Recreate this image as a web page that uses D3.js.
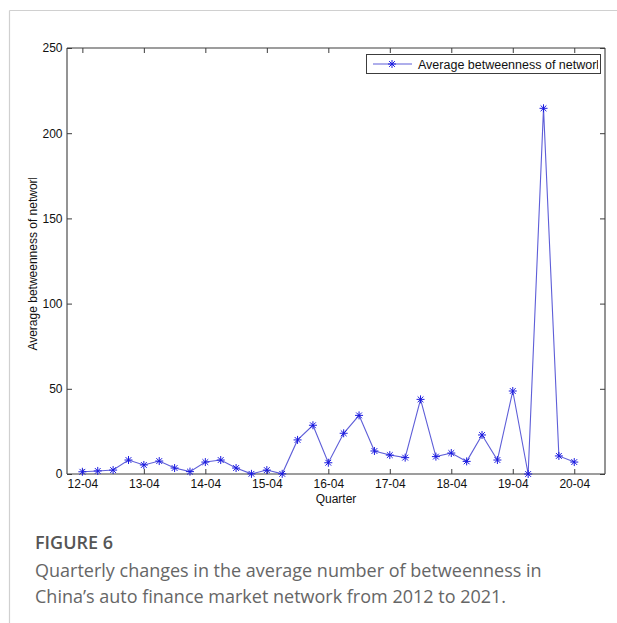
<!DOCTYPE html>
<html>
<head>
<meta charset="utf-8">
<script src="https://cdn.jsdelivr.net/npm/d3@7"></script>
<style>
  html, body { margin: 0; padding: 0; background: #fff; }
  svg { display: block; }
</style>
</head>
<body>
<svg id="chart" width="617" height="623"></svg>
<script>
// Quarter index (1 = 2012 Q4) and average betweenness of the network
const quarterIndex = [1, 2, 3, 4, 5, 6, 7, 8, 9, 10, 11, 12, 13, 14, 15, 16, 17,
  18, 19, 20, 21, 22, 23, 24, 25, 26, 27, 28, 29, 30, 31, 32, 33];
const avgBetweenness = [1.3, 1.8, 2.3, 8.2, 5.3, 7.6, 3.5, 1.4, 7.0, 8.2, 3.5, 0.1,
  2.3, 0.1, 20.0, 28.6, 6.6, 23.9, 34.4, 13.5, 11.1, 9.6, 43.8, 10.2, 12.3, 7.4,
  22.9, 8.2, 48.7, 0.0, 214.6, 10.6, 7.0];
const xTickPositions = [1, 5, 9, 13, 17, 21, 25, 29, 33];
const xTickLabels = ["12-04", "13-04", "14-04", "15-04", "16-04", "17-04", "18-04", "19-04", "20-04"];
const yTickValues = [0, 50, 100, 150, 200, 250];
const seriesName = "Average betweenness of network";

const svg = d3.select("#chart");
const frame = "#d0d0d0";
const axisColor = "#3c3c3c";
const lineColor = "#5e5ed8";
const markerColor = "#1a1ae0";
const tickFont = "'Liberation Sans', Arial, sans-serif";

// Page frame lines
svg.append("line").attr("x1", 9.5).attr("x2", 617).attr("y1", 10.5).attr("y2", 10.5)
  .attr("stroke", frame).attr("stroke-width", 1.2);
svg.append("line").attr("x1", 9.5).attr("x2", 9.5).attr("y1", 10.5).attr("y2", 623)
  .attr("stroke", frame).attr("stroke-width", 1.2);

const L = 67, R = 605, T = 48, B = 474;
const x = d3.scaleLinear().domain([0, 35]).range([L, R]);
const y = d3.scaleLinear().domain([0, 250]).range([B, T]);

const g = svg.append("g");

// Axes (ticks pointing inward, box on)
const tickLen = 5;
const bottomAxis = d3.axisBottom(x).tickValues(xTickPositions)
  .tickFormat((d, i) => xTickLabels[i]).tickSize(-tickLen).tickPadding(5);
const topAxis = d3.axisTop(x).tickValues(xTickPositions).tickFormat("").tickSize(-tickLen);
const leftAxis = d3.axisLeft(y).tickValues(yTickValues).tickSize(-tickLen).tickPadding(4.5);
const rightAxis = d3.axisRight(y).tickValues(yTickValues).tickFormat("").tickSize(-tickLen);

function styleAxis(sel) {
  sel.selectAll("path").attr("stroke", axisColor).attr("stroke-width", 1.1);
  sel.selectAll("line").attr("stroke", axisColor).attr("stroke-width", 1);
  sel.selectAll("text").attr("fill", "#111").style("font-family", tickFont).style("font-size", "12px");
}
g.append("g").attr("transform", `translate(0,${B})`).call(bottomAxis).call(styleAxis)
  .call(s => s.select(".domain").attr("d", `M${L},0H${R}`));
g.append("g").attr("transform", `translate(0,${T})`).call(topAxis).call(styleAxis)
  .call(s => s.select(".domain").attr("d", `M${L},0H${R}`));
g.append("g").attr("transform", `translate(${L},0)`).call(leftAxis).call(styleAxis)
  .call(s => s.select(".domain").attr("d", `M0,${T}V${B}`));
g.append("g").attr("transform", `translate(${R},0)`).call(rightAxis).call(styleAxis)
  .call(s => s.select(".domain").attr("d", `M0,${T}V${B}`));

// Axis titles
svg.append("text").attr("x", (L + R) / 2).attr("y", 503).attr("text-anchor", "middle")
  .style("font-family", tickFont).style("font-size", "12px").attr("fill", "#111").text("Quarter");

svg.append("clipPath").attr("id", "ylabClip").append("rect")
  .attr("x", 0).attr("y", 178).attr("width", 60).attr("height", 300);
svg.append("g").attr("clip-path", "url(#ylabClip)")
  .append("text")
  .attr("transform", `translate(37,${(T + B) / 2 + 1}) rotate(-90)`)
  .attr("text-anchor", "middle")
  .style("font-family", tickFont).style("font-size", "12px").attr("fill", "#111")
  .text(seriesName);

// Series line
const line = d3.line().x((d, i) => x(quarterIndex[i])).y(d => y(d));
g.append("path").datum(avgBetweenness).attr("d", line)
  .attr("fill", "none").attr("stroke", lineColor).attr("stroke-width", 1.1);

// Asterisk markers (+ combined with x)
function star(r) {
  const d = r * 0.72;
  return `M${-r},0H${r}M0,${-r}V${r}M${-d},${-d}L${d},${d}M${-d},${d}L${d},${-d}`;
}
g.selectAll(".mk").data(avgBetweenness).join("path").attr("class", "mk")
  .attr("transform", (d, i) => `translate(${x(quarterIndex[i])},${y(d)})`)
  .attr("d", star(4)).attr("fill", "none").attr("stroke", markerColor).attr("stroke-width", 1);

// Legend
const lg = svg.append("g");
svg.append("clipPath").attr("id", "legClip").append("rect")
  .attr("x", 366).attr("y", 54).attr("width", 232).attr("height", 20);
lg.append("rect").attr("x", 366.5).attr("y", 54.5).attr("width", 234).attr("height", 19)
  .attr("fill", "#fff").attr("stroke", axisColor).attr("stroke-width", 1);
lg.append("line").attr("x1", 373).attr("x2", 412).attr("y1", 64).attr("y2", 64)
  .attr("stroke", lineColor).attr("stroke-width", 1.1);
lg.append("path").attr("transform", "translate(392,64)").attr("d", star(4))
  .attr("fill", "none").attr("stroke", markerColor).attr("stroke-width", 1);
lg.append("g").attr("clip-path", "url(#legClip)")
  .append("text").attr("x", 418).attr("y", 68.5)
  .style("font-family", tickFont).style("font-size", "12.5px").attr("fill", "#111").text(seriesName);

// Caption
const capFont = "'Open Sans', 'Noto Sans', sans-serif";
svg.append("text").attr("x", 35).attr("y", 549)
  .style("font-family", capFont).style("font-size", "18px").style("font-weight", 600)
  .attr("fill", "#555").text("FIGURE 6");
svg.append("text").attr("x", 35).attr("y", 577)
  .style("font-family", capFont).style("font-size", "18px")
  .attr("fill", "#666").text("Quarterly changes in the average number of betweenness in");
svg.append("text").attr("x", 35).attr("y", 603)
  .style("font-family", capFont).style("font-size", "18px")
  .attr("fill", "#666").text("China’s auto finance market network from 2012 to 2021.");
</script>
</body>
</html>
